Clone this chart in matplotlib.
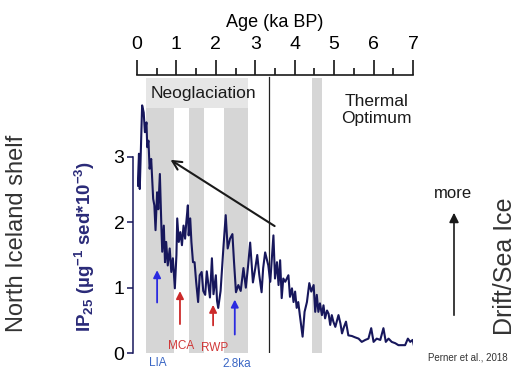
import matplotlib
matplotlib.use("Agg")
import matplotlib.pyplot as plt
from matplotlib import font_manager


def pick_font(*names):
    for n in names:
        try:
            font_manager.findfont(n, fallback_to_default=False)
            return n
        except ValueError:
            continue
    return "DejaVu Sans"


SANS = pick_font("Liberation Sans", "Arial", "DejaVu Sans")
NARROW = pick_font("Liberation Sans Narrow", "Liberation Sans")

plt.rcParams["font.family"] = [SANS, "DejaVu Sans"]
plt.rcParams["mathtext.fontset"] = "custom"
plt.rcParams["mathtext.rm"] = SANS
plt.rcParams["mathtext.bf"] = SANS + ":bold"
plt.rcParams["mathtext.default"] = "bf"

NAVY = "#17175c"
BAND = "#d6d6d6"
HEAD = "#e6e6e6"

# IP25 record (age in ka BP, concentration)
age = [0.02, 0.05, 0.07, 0.10, 0.13, 0.17, 0.20, 0.24, 0.26, 0.29, 0.32, 0.36,
       0.41, 0.44, 0.47, 0.51, 0.54, 0.58, 0.62, 0.64, 0.68, 0.71, 0.74, 0.78,
       0.83, 0.87, 0.91, 0.96, 1.00, 1.02, 1.06, 1.10, 1.14, 1.18, 1.22, 1.25,
       1.29, 1.31, 1.35, 1.38, 1.42, 1.46, 1.50, 1.55, 1.59, 1.64, 1.68, 1.73,
       1.77, 1.80, 1.85, 1.90, 1.94, 2.00, 2.03, 2.06, 2.12, 2.19, 2.25, 2.30,
       2.36, 2.42, 2.46, 2.51, 2.57, 2.63, 2.70, 2.76, 2.82, 2.87, 2.94, 3.00,
       3.05, 3.10, 3.16, 3.20, 3.25, 3.33, 3.38, 3.46, 3.50, 3.55, 3.59, 3.63,
       3.67, 3.71, 3.76, 3.80, 3.84, 3.88, 3.93, 3.97, 4.01, 4.05, 4.09, 4.13,
       4.20, 4.25, 4.31, 4.37, 4.42, 4.48, 4.52, 4.56, 4.60, 4.64, 4.69, 4.73,
       4.77, 4.82, 4.86, 4.90, 4.94, 4.98, 5.03, 5.11, 5.16, 5.20, 5.25, 5.30,
       5.36, 5.45, 5.53, 5.62, 5.70, 5.79, 5.87, 5.94, 6.00, 6.08, 6.17, 6.25,
       6.31, 6.38, 6.46, 6.55, 6.63, 6.72, 6.80, 6.87, 6.93, 6.99, 7.04]
ip25 = [2.56, 3.05, 2.51, 3.18, 3.79, 3.68, 3.38, 3.53, 3.15, 3.25, 2.82, 2.97,
        2.36, 2.26, 1.88, 2.46, 2.20, 2.74, 1.90, 1.55, 1.95, 1.39, 1.70, 1.34,
        1.60, 1.24, 1.45, 0.99, 1.50, 2.06, 1.70, 1.85, 1.65, 1.95, 1.75, 2.00,
        2.26, 1.80, 2.06, 1.70, 1.39, 1.39, 1.09, 0.78, 1.19, 1.24, 0.95, 0.89,
        1.25, 1.10, 0.85, 1.45, 0.90, 1.19, 0.80, 0.69, 0.95, 1.60, 2.11, 1.60,
        1.75, 1.82, 1.40, 0.93, 1.04, 0.95, 1.30, 1.00, 1.35, 1.69, 1.08, 1.30,
        1.50, 1.20, 0.93, 1.30, 1.54, 1.34, 1.09, 1.80, 1.14, 1.39, 1.04, 1.42,
        0.84, 1.14, 1.09, 1.14, 1.19, 0.86, 0.99, 0.78, 0.94, 0.69, 0.78, 0.58,
        0.25, 0.63, 0.78, 1.07, 0.94, 1.04, 0.63, 0.89, 0.63, 0.76, 0.58, 0.73,
        0.53, 0.65, 0.60, 0.43, 0.58, 0.48, 0.40, 0.58, 0.45, 0.30, 0.40, 0.48,
        0.27, 0.26, 0.24, 0.22, 0.17, 0.20, 0.22, 0.38, 0.17, 0.22, 0.20, 0.38,
        0.17, 0.22, 0.17, 0.15, 0.12, 0.12, 0.12, 0.22, 0.17, 0.20, 0.07]

# shaded cold intervals (ka BP)
band_start = [0.23, 1.32, 2.21, 4.44]
band_end = [0.94, 1.70, 2.82, 4.70]

# event markers: label, age, arrow tail/head, colour
events = ["LIA", "MCA", "RWP", "2.8ka"]
event_age = [0.51, 1.09, 1.93, 2.48]
event_tail = [0.73, 0.40, 0.38, 0.24]
event_head = [1.31, 0.99, 0.78, 0.86]
event_colour = ["#2a2ae0", "#cc2a2a", "#cc2a2a", "#2a2ae0"]
label_age = [0.54, 1.13, 1.98, 2.52]
label_y = [-0.16, 0.11, 0.08, -0.17]
label_colour = ["#3a66c4", "#d03838", "#d03838", "#3a66c4"]

W, H = 523, 370
fig = plt.figure(figsize=(W / 100, H / 100), dpi=100)
ax = fig.add_axes([137 / W, 17 / H, 276 / W, 278 / H])
ax.set_xlim(0, 7)
ax.set_ylim(0, 4.255)

for a, b in zip(band_start, band_end):
    ax.axvspan(a, b, ymin=0, ymax=4.21 / 4.255, color=BAND, lw=0, zorder=0)
ax.fill_between([0.23, 2.82], 3.75, 4.21, color=HEAD, lw=0, zorder=0.5)
ax.plot([3.35, 3.35], [0, 4.22], color="#222222", lw=0.9, zorder=1)

ax.plot(age, ip25, color=NAVY, lw=1.5, zorder=3)

ax.text(1.69, 3.97, "Neoglaciation", family=[NARROW, SANS], fontsize=12.5,
        ha="center", va="center", color="#1a1a1a")
ax.text(6.07, 3.72, "Thermal\nOptimum", family=[NARROW, SANS], fontsize=12.5,
        ha="center", va="center", color="#1a1a1a", linespacing=1.2)

ax.annotate("", xy=(0.79, 2.98), xytext=(3.55, 1.92),
            arrowprops=dict(arrowstyle="->", color="#1a1a1a", lw=1.5,
                            mutation_scale=16), zorder=4)

for x, t, h, c in zip(event_age, event_tail, event_head, event_colour):
    ax.annotate("", xy=(x, h), xytext=(x, t),
                arrowprops=dict(arrowstyle="-|>", color=c, lw=1.3,
                                mutation_scale=11), zorder=4)
for name, x, y, c in zip(events, label_age, label_y, label_colour):
    ax.text(x, y, name, color=c, fontsize=8.5, ha="center", va="center",
            clip_on=False)

# axes styling
for s in ["right", "bottom"]:
    ax.spines[s].set_visible(False)
ax.spines["left"].set_position(("outward", 3))
ax.spines["left"].set_bounds(0, 3)
ax.spines["left"].set_color(NAVY)
ax.spines["left"].set_linewidth(1.1)
ax.spines["top"].set_linewidth(1.2)
ax.spines["top"].set_color("#1a1a1a")

ax.set_yticks([0, 1, 2, 3])
ax.tick_params(axis="y", direction="out", length=4, width=1.1, color=NAVY,
               labelsize=14, pad=2)

ax.xaxis.tick_top()
ax.xaxis.set_label_position("top")
ax.set_xticks(range(8))
ax.set_xticks([0.5 + i for i in range(7)], minor=True)
ax.tick_params(axis="x", which="major", direction="out", length=11, width=1.1,
               labelsize=14, pad=5)
ax.tick_params(axis="x", which="minor", direction="out", length=5, width=1.1)
for lab in ax.get_xticklabels():
    lab.set_family([NARROW, SANS])
ax.set_xlabel("Age (ka BP)", fontsize=13, family=[NARROW, SANS], labelpad=6)

fig.text(85 / W, 1 - 247 / H, r"IP$_{25}$ (µg$^{-1}$ sed*10$^{-3}$)",
         rotation=90, ha="center", va="center", fontsize=13.5,
         fontweight="bold", color="#2a2a78")
fig.text(17 / W, 1 - 233 / H, "North Iceland shelf", rotation=90,
         ha="center", va="center", fontsize=17, color="#333333")
fig.text(505 / W, 1 - 266 / H, "Drift/Sea Ice", rotation=90,
         ha="center", va="center", fontsize=18, color="#333333")
fig.text(453 / W, 1 - 193 / H, "more", ha="center", va="center",
         fontsize=12, color="#1a1a1a")
fig.patches.append(matplotlib.patches.FancyArrowPatch(
    (454 / W, 1 - 318 / H), (454 / W, 1 - 210 / H),
    transform=fig.transFigure, arrowstyle="-|>", mutation_scale=14,
    color="#1a1a1a", lw=1.2))
fig.text(468 / W, 1 - 358 / H, "Perner et al., 2018", ha="center",
         va="center", fontsize=7, color="#333333")

fig.savefig("out.png", dpi=100)
